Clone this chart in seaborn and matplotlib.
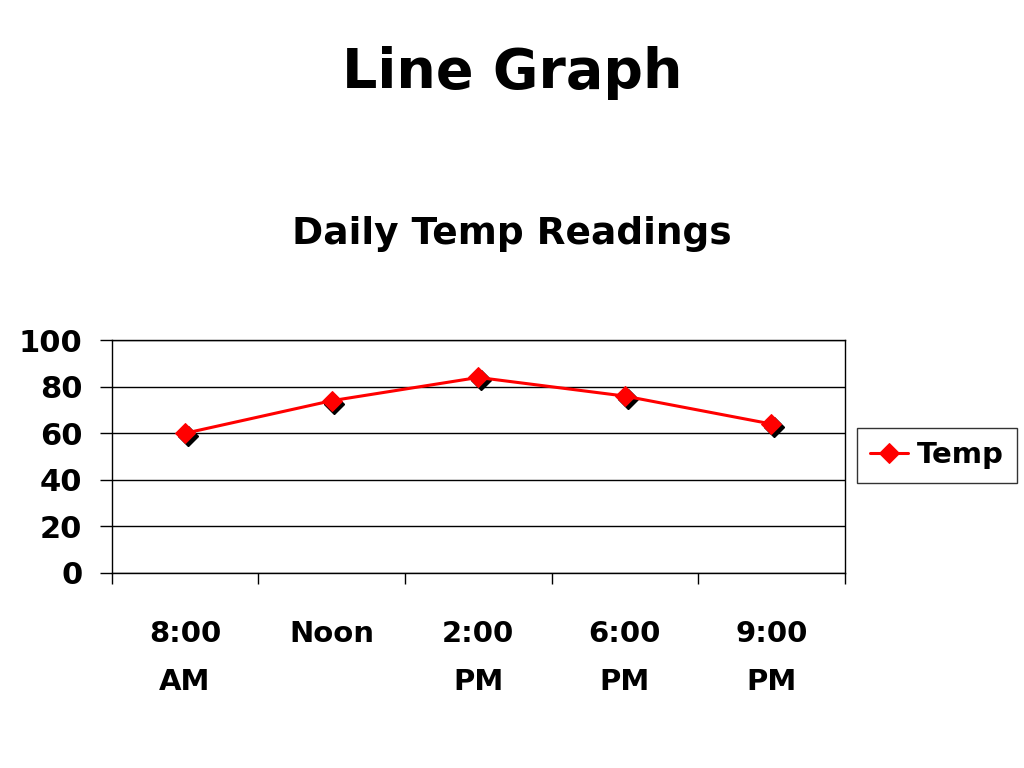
import matplotlib
matplotlib.use("Agg")
import matplotlib.pyplot as plt
import matplotlib.transforms as mtransforms
import seaborn as sb

times = ["8:00\nAM", "Noon", "2:00\nPM", "6:00\nPM", "9:00\nPM"]
temps = [60, 74, 84, 76, 64]
y_ticks = [0, 20, 40, 60, 80, 100]

sb.set_style("white")
plt.rcParams['font.family'] = ['DejaVu Sans']
plt.rcParams['font.weight'] = 'bold'
plt.rcParams['text.color'] = 'black'
plt.rcParams['xtick.color'] = 'black'
plt.rcParams['ytick.color'] = 'black'

fig = plt.figure(figsize=(10.24, 7.68), dpi=100)
ax = fig.add_axes([0.109, 0.254, 0.716, 0.303])

pos = list(range(len(times)))

# black drop shadow under the markers
shadow = ax.plot(pos, temps, linestyle='', marker='D', markersize=10.5,
                 color='black', zorder=2)[0]
shadow.set_transform(ax.transData + mtransforms.ScaledTranslation(2/72, -2/72, fig.dpi_scale_trans))

sb.lineplot(x=pos, y=temps, ax=ax, color='#ff0000', linewidth=2.2,
            marker='D', markersize=10.5, markeredgecolor='#ff0000',
            label='Temp', zorder=3)

ax.set_xlim(-0.5, len(times) - 0.5)
ax.set_ylim(0, 100)
ax.set_yticks(y_ticks)
ax.set_yticklabels([str(v) for v in y_ticks], fontsize=22, fontweight='bold')
ax.yaxis.grid(True, color='black', linewidth=1)
ax.set_axisbelow(True)

# ticks at category boundaries, labels at centres
ax.set_xticks([p - 0.5 for p in pos] + [len(times) - 0.5])
ax.set_xticklabels([])
ax.set_xticks(pos, minor=True)
ax.set_xticklabels(times, minor=True, fontsize=21, fontweight='bold', linespacing=1.9)
ax.tick_params(axis='x', which='major', direction='out', length=8, width=1, color='black', bottom=True)
ax.tick_params(axis='x', which='minor', length=0, pad=34)
ax.tick_params(axis='y', direction='out', length=9, width=1, color='black', left=True, pad=12)

for s in ax.spines.values():
    s.set_color('black')
    s.set_linewidth(1)

leg = ax.legend(loc='center left', bbox_to_anchor=(1.005, 0.505), fontsize=21,
                frameon=True, fancybox=False, borderpad=0.45, handlelength=1.3,
                handletextpad=0.3, borderaxespad=0.3)
leg.get_frame().set_edgecolor('black')
leg.get_frame().set_linewidth(1)
for t in leg.get_texts():
    t.set_fontweight('bold')

fig.text(0.5, 0.905, "Line Graph", ha='center', va='center', fontsize=40, fontweight='bold')
fig.text(0.5, 0.695, "Daily Temp Readings", ha='center', va='center', fontsize=27, fontweight='bold')

fig.savefig('out.png', dpi=100)
